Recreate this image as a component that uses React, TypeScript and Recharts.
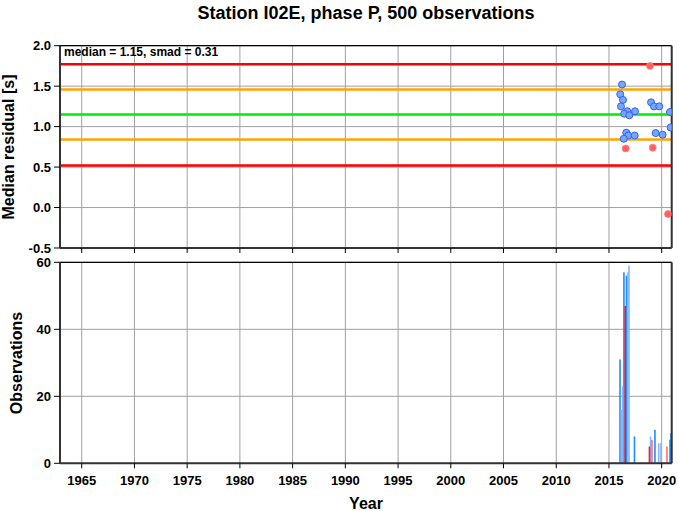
import { Bar, CartesianGrid, ComposedChart, ReferenceLine, Scatter, XAxis, YAxis } from 'recharts';

const FONT = '"Liberation Sans", Arial, Helvetica, sans-serif';

// axis ticks
const yearTicks = [1965, 1970, 1975, 1980, 1985, 1990, 1995, 2000, 2005, 2010, 2015, 2020];
const residualTicks = [-0.5, 0, 0.5, 1, 1.5, 2];
const countTicks = [0, 20, 40, 60];
const yearDomain = [1962.94, 2020.95];

// median residuals kept (blue) and flagged (red)
const keptYears = [2016.24, 2016.07, 2016.33, 2016.14, 2016.74, 2016.45, 2016.93, 2017.47, 2018.99, 2019.27, 2019.77, 2020.79, 2020.85, 2016.64, 2016.83, 2016.4, 2017.44, 2019.43, 2020.09];
const keptResiduals = [1.52, 1.4, 1.33, 1.25, 1.19, 1.16, 1.14, 1.19, 1.3, 1.25, 1.25, 1.18, 0.99, 0.925, 0.89, 0.85, 0.89, 0.92, 0.9];
const flaggedYears = [2018.89, 2016.59, 2019.15, 2020.6];
const flaggedResiduals = [1.75, 0.73, 0.74, -0.08];

// median and +/- 1, 2 smad levels
const levelValues = [1.77, 1.46, 1.15, 0.84, 0.52];
const levelColors = ['#ff0000', '#ffa500', '#00ee00', '#ffa500', '#ff0000'];

// observations per bin
const binYears = [2016.05, 2016.17, 2016.3, 2016.42, 2016.54, 2016.66, 2016.78, 2016.9, 2017.42, 2018.84, 2018.94, 2019.08, 2019.36, 2019.72, 2019.93, 2020.5, 2020.79, 2020.88];
const binCounts = [31, 16, 23, 57, 47, 56, 57, 59, 8, 5, 8, 7, 10, 6, 6, 5, 7, 9];
const binKinds = ['blue', 'light', 'light', 'blue', 'red', 'blue', 'light', 'light', 'blue', 'red', 'light', 'pink', 'blue', 'light', 'light', 'pink', 'blue', 'blue'];

const kept = keptYears.map((year, i) => ({ year, value: keptResiduals[i] }));
const flagged = flaggedYears.map((year, i) => ({ year, value: flaggedResiduals[i] }));
const bins = binYears.map((year, i) => ({ year, [binKinds[i]]: binCounts[i] }));

const barColors: Record<string, string> = {
  blue: '#1e8cff',
  light: '#86b6ff',
  red: '#ff1a1a',
  pink: '#ff6f6f',
};

const tickStyle = { fill: '#000', fontSize: 13, fontWeight: 'bold', fontFamily: FONT };
const blank = () => '';

const BlueDot = (props: any) => (
  <circle cx={props.cx} cy={props.cy} r={3.5} fill="#78a5ff" stroke="#3060f0" strokeWidth={1} />
);
const RedDot = (props: any) => (
  <circle cx={props.cx} cy={props.cy} r={3.5} fill="#ff6060" stroke="#ff8080" strokeWidth={0.8} />
);

// recharts squeezes bars to the bin spacing, keep them a bit wider
const ThinBar = (props: any) => {
  if (!props.height) return null;
  const w = 1.6;
  return <rect x={props.x + props.width / 2 - w / 2} y={props.y} width={w} height={props.height} fill={props.fill} />;
};

const App = () => {
  return (
    <div style={{ position: 'absolute', left: 0, top: 0, width: 678, height: 511, background: '#fff' }}>
      <div style={{ position: 'absolute', left: 0, top: 0 }}>
        <ComposedChart width={678} height={260} margin={{ top: 39.7, right: 0.3, bottom: 0, left: 0 }}>
          <CartesianGrid stroke="#a0a0a0" strokeWidth={1} />
          <XAxis
            dataKey="year"
            type="number"
            domain={yearDomain}
            ticks={yearTicks}
            allowDataOverflow
            height={12}
            tickSize={5}
            tickFormatter={blank}
            axisLine={{ stroke: '#333', strokeWidth: 2 }}
            tickLine={{ stroke: '#000' }}
          />
          <XAxis
            xAxisId="top"
            orientation="top"
            type="number"
            domain={yearDomain}
            ticks={yearTicks}
            allowDataOverflow
            height={6}
            tickSize={4}
            tickFormatter={blank}
            axisLine={{ stroke: '#000', strokeWidth: 1.2 }}
            tickLine={{ stroke: '#000' }}
          />
          <YAxis
            dataKey="value"
            type="number"
            domain={[-0.5, 2]}
            ticks={residualTicks}
            allowDataOverflow
            width={60}
            tickSize={6}
            tickMargin={3}
            tick={tickStyle}
            tickFormatter={(v: number) => v.toFixed(1)}
            axisLine={{ stroke: '#333', strokeWidth: 2 }}
            tickLine={{ stroke: '#000' }}
          />
          <YAxis
            yAxisId="right"
            orientation="right"
            type="number"
            domain={[-0.5, 2]}
            ticks={residualTicks}
            width={6}
            tickSize={4}
            tickFormatter={blank}
            axisLine={{ stroke: '#333', strokeWidth: 2 }}
            tickLine={{ stroke: '#000' }}
          />
          {levelValues.map((v, i) => (
            <ReferenceLine key={v} y={v} stroke={levelColors[i]} strokeWidth={2.5} ifOverflow="hidden" />
          ))}
          <Scatter data={kept} dataKey="value" shape={BlueDot} isAnimationActive={false} />
          <Scatter data={flagged} dataKey="value" shape={RedDot} isAnimationActive={false} />
        </ComposedChart>
      </div>
      <div style={{ position: 'absolute', left: 0, top: 250 }}>
        <ComposedChart width={678} height={261} data={bins} margin={{ top: 6.3, right: 0.3, bottom: 17.7, left: 0 }}>
          <CartesianGrid stroke="#a0a0a0" strokeWidth={1} />
          <XAxis
            dataKey="year"
            type="number"
            domain={yearDomain}
            ticks={yearTicks}
            allowDataOverflow
            height={30}
            tickSize={5}
            tickMargin={7}
            tick={tickStyle}
            axisLine={{ stroke: '#333', strokeWidth: 2 }}
            tickLine={{ stroke: '#000' }}
          />
          <XAxis
            xAxisId="top"
            orientation="top"
            type="number"
            domain={yearDomain}
            ticks={yearTicks}
            allowDataOverflow
            height={6}
            tickSize={4}
            tickFormatter={blank}
            axisLine={{ stroke: '#000', strokeWidth: 1.2 }}
            tickLine={{ stroke: '#000' }}
          />
          <YAxis
            type="number"
            domain={[0, 60]}
            ticks={countTicks}
            allowDataOverflow
            width={60}
            tickSize={6}
            tickMargin={3}
            tick={tickStyle}
            axisLine={{ stroke: '#333', strokeWidth: 2 }}
            tickLine={{ stroke: '#000' }}
          />
          <YAxis
            yAxisId="right"
            orientation="right"
            type="number"
            domain={[0, 60]}
            ticks={countTicks}
            width={6}
            tickSize={4}
            tickFormatter={blank}
            axisLine={{ stroke: '#333', strokeWidth: 2 }}
            tickLine={{ stroke: '#000' }}
          />
          {Object.keys(barColors).map((k) => (
            <Bar key={k} dataKey={k} stackId="obs" fill={barColors[k]} shape={ThinBar} isAnimationActive={false} />
          ))}
        </ComposedChart>
      </div>
      <svg width={678} height={511} style={{ position: 'absolute', left: 0, top: 0, pointerEvents: 'none' }}>
        <g fontFamily={FONT} fontWeight="bold" fill="#000">
          <text x={366} y={19} textAnchor="middle" fontSize={18}>
            Station I02E, phase P, 500 observations
          </text>
          <text x={64} y={56} fontSize={12}>
            median = 1.15, smad = 0.31
          </text>
          <text transform="translate(13.5,147) rotate(-90)" textAnchor="middle" fontSize={16}>
            Median residual [s]
          </text>
          <text transform="translate(21.5,363) rotate(-90)" textAnchor="middle" fontSize={16}>
            Observations
          </text>
          <text x={366} y={509} textAnchor="middle" fontSize={16}>
            Year
          </text>
        </g>
      </svg>
    </div>
  );
};

export default App;
